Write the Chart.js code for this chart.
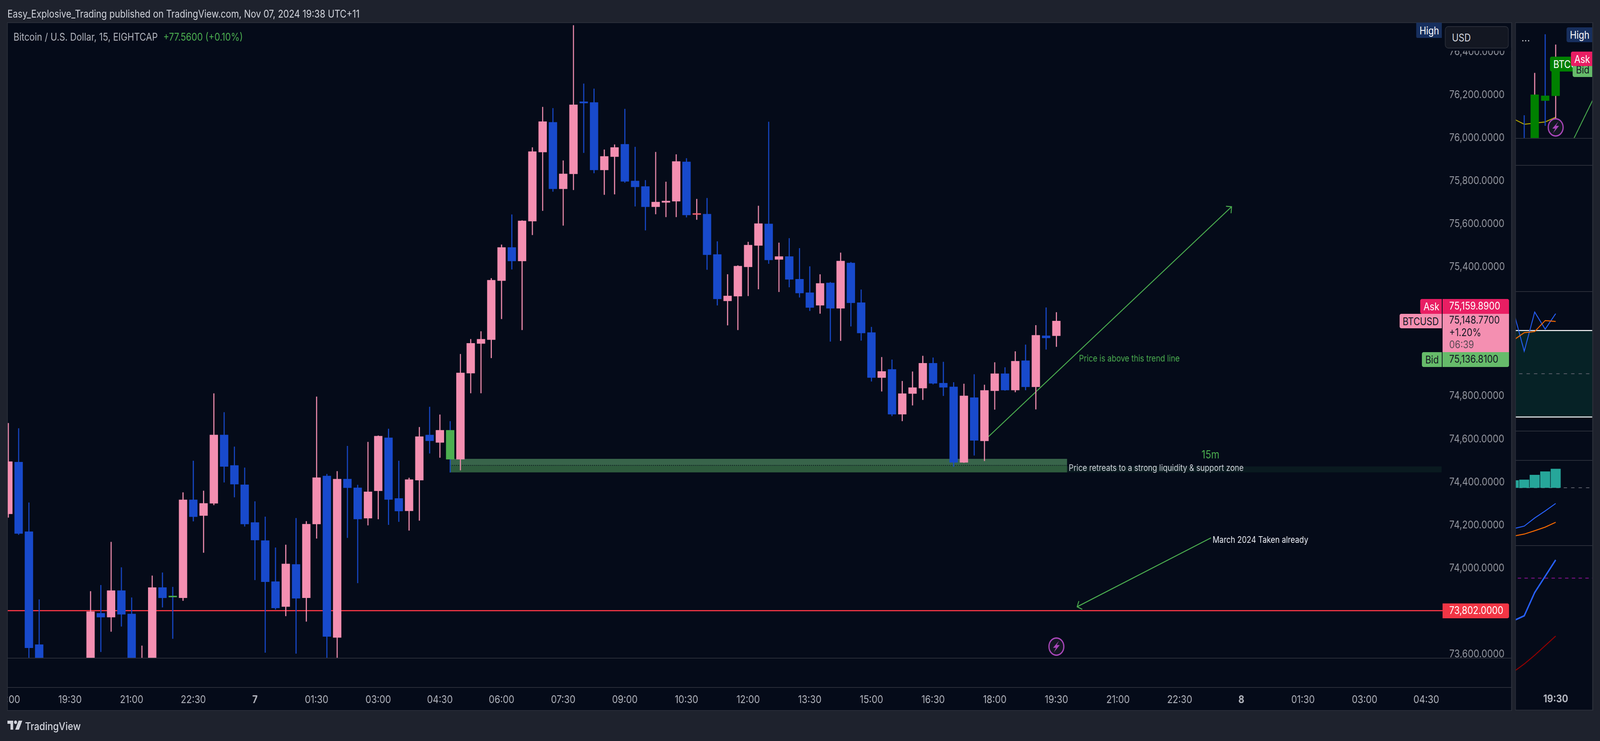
<!DOCTYPE html>
<html>
<head>
<meta charset="utf-8">
<script src="https://cdn.jsdelivr.net/npm/chart.js@4/dist/chart.umd.min.js"></script>
<style>
  html,body{margin:0;padding:0;background:#1e222d;overflow:hidden;}
  #page{position:relative;width:4734px;height:1896px;overflow:hidden;font-family:Inter,sans-serif;background:#1e222d;transform-origin:0 0;}
  .pane{position:absolute;background:#050b19;}
  .rule{position:absolute;background:#2a2e39;}
  canvas{position:absolute;}
  .t{position:absolute;white-space:nowrap;line-height:1;}
  .tag{position:absolute;white-space:nowrap;display:flex;align-items:center;box-sizing:border-box;font-size:26.4px;}
</style>
</head>
<body>
<div id="page">
  <div class="pane" style="left:22px;top:58px;width:4450px;height:1760px"></div>
  <div class="pane" style="left:4484px;top:58px;width:228px;height:1759px"></div>

  <canvas id="mainChart" width="4734" height="1896" style="left:0;top:0"></canvas>
  <canvas id="insetCandles" width="228" height="296" style="left:4484px;top:58px"></canvas>
  <canvas id="insetRsi" width="228" height="357" style="left:4484px;top:746px"></canvas>
  <canvas id="insetMacd" width="228" height="218" style="left:4484px;top:1178px"></canvas>
  <canvas id="insetTrend" width="228" height="421" style="left:4484px;top:1396px"></canvas>

  <div class="rule" style="left:22px;top:1683px;width:4450px;height:2px"></div>
  <div class="rule" style="left:22px;top:1758px;width:4450px;height:2px"></div>
  <div class="rule" style="left:22px;top:57px;width:4450px;height:2px"></div>
  <div class="rule" style="left:21px;top:57px;width:2px;height:1762px"></div>
  <div class="rule" style="left:4471px;top:57px;width:3px;height:1762px"></div>
  <div class="rule" style="left:22px;top:1817px;width:4450px;height:2px"></div>
  <div class="rule" style="left:4483px;top:57px;width:2px;height:1761px"></div>
  <div class="rule" style="left:4711px;top:57px;width:3px;height:1761px"></div>
  <div class="rule" style="left:4483px;top:57px;width:230px;height:2px"></div>
  <div class="rule" style="left:4483px;top:1816px;width:230px;height:2px"></div>
  <div class="rule" style="left:4484px;top:353px;width:228px;height:2px"></div>
  <div class="rule" style="left:4484px;top:422px;width:228px;height:2px"></div>
  <div class="rule" style="left:4484px;top:745px;width:228px;height:2px"></div>
  <div class="rule" style="left:4484px;top:1102px;width:228px;height:2px"></div>
  <div class="rule" style="left:4484px;top:1177px;width:228px;height:2px"></div>
  <div class="rule" style="left:4484px;top:1395px;width:228px;height:2px"></div>

  <div class="t" style="left:22px;top:22px;font-size:26.4px;color:#d1d4dc">Easy_Explosive_Trading published on TradingView.com, Nov 07, 2024 19:38 UTC+11</div>
  <div class="t" style="left:40px;top:81px;font-size:26.4px;color:#b2b5be">Bitcoin / U.S. Dollar, 15, EIGHTCAP</div>
  <div class="t" style="left:483px;top:81px;font-size:26.4px;color:#4caf50">+77.5600 (+0.10%)</div>

  <svg style="position:absolute;left:22px;top:1843px" width="44" height="26" viewBox="0 0 44 26">
    <path d="M0 1H17V24H9V9H0Z M33 1H44L34 24H23Z" fill="#d1d4dc"/><circle cx="24" cy="5" r="4.5" fill="#d1d4dc"/>
  </svg>
  <div class="t" style="left:74px;top:1845px;font-size:27.5px;color:#d1d4dc;font-weight:500">TradingView</div>

  <div class="pane" style="left:4268px;top:122px;width:203px;height:8px"></div>
  <div class="tag" style="left:4190px;top:58px;width:76px;height:39px;background:#172f5e;color:#fff;border-radius:0 0 0 4px;padding-left:10px">High</div>
  <div class="tag" style="left:4275px;top:67px;width:189px;height:57px;background:#131722;border:2px solid #2a2e39;border-radius:10px;color:#d1d4dc;padding-left:19px">USD</div>

  <div class="tag" style="left:4202px;top:765px;width:64px;height:38px;background:#e91e63;color:#fff;border-radius:5px 0 0 5px;padding-left:10px">Ask</div>
  <div class="tag" style="left:4268px;top:765px;width:197px;height:38px;background:#e91e63;color:#fff;border-radius:0 5px 0 0;padding-left:20px;padding-bottom:4px">75,159.8900</div>
  <div class="tag" style="left:4141px;top:803px;width:125px;height:37px;background:#f48fb1;color:#131722;border-radius:5px 0 0 5px;padding-left:9px">BTCUSD</div>
  <div style="position:absolute;left:4268px;top:803px;width:197px;height:98px;background:#f48fb1"></div>
  <div class="t" style="left:4288px;top:805px;font-size:26.4px;color:#131722">75,148.7700</div>
  <div class="t" style="left:4288px;top:837px;font-size:26.4px;color:#131722">+1.20%</div>
  <div class="t" style="left:4288px;top:868px;font-size:26.4px;color:#5b4a55">06:39</div>
  <div class="tag" style="left:4207px;top:901px;width:59px;height:38px;background:#66bb6a;color:#131722;border-radius:5px 0 0 5px;padding-left:10px">Bid</div>
  <div class="tag" style="left:4268px;top:901px;width:197px;height:38px;background:#66bb6a;color:#131722;border-radius:0 0 5px 0;padding-left:20px;padding-bottom:4px">75,136.8100</div>
  <div class="tag" style="left:4268px;top:1544px;width:197px;height:38px;background:#f23645;color:#fff;border-radius:0 5px 5px 0;padding-left:20px;padding-bottom:4px">73,802.0000</div>

  <div class="tag" style="left:4635px;top:70px;width:76px;height:38px;background:#172f5e;color:#fff;border-radius:5px 0 0 5px;padding-left:10px">High</div>
  <div class="tag" style="left:4586px;top:145px;width:90px;height:38px;background:#008000;color:#fff;border-radius:5px 0 0 5px;padding-left:10px;overflow:hidden">BTCUSD</div>
  <div class="tag" style="left:4653px;top:159px;width:58px;height:38px;background:#66bb6a;color:#131722;border-radius:0 0 0 5px;padding-left:10px">Bid</div>
  <div class="tag" style="left:4648px;top:132px;width:63px;height:37px;background:#e91e63;color:#fff;border-radius:5px 0 0 5px;padding-left:10px">Ask</div>
  <div class="t" style="left:4502px;top:84px;font-size:26px;color:#d1d4dc;letter-spacing:1px">...</div>
  <div class="t" style="left:4566px;top:1774px;font-size:27px;font-weight:700;color:#b2b5be">19:30</div>
</div>

<script>
// the browser window can come out narrower than the layout, so fit the page into it
document.getElementById('page').style.transform = 'scale(' + (window.innerWidth / 4734) + ',' + (window.innerHeight / 1896) + ')';

// candles, 15 minute bars starting 18:00 on the 6th. 4-7 and part of 12,13 sit below the visible range
var opens = [74251.8,74493,74169.5,73644.4,73500,73430,73470,73520,73500,73790.2,73771.6,73895.4,73786.9,73450,73500,73909.7,73869,73861.5,74317.5,74244,
  74301,74619,74477.6,74387.7,74212.3,74127.9,73937.1,73820.9,74017.1,73861.5,74204.6,74428.3,73677.3,74414,74373.5,74232,74359.2,74605.9,74324.1,74266,
  74408.6,74619,74584,74641,74506.1,74906.2,75044.1,75062.2,75336.4,75490.9,75427.6,75613.2,75934.5,76072.9,75763.4,75833,76168.9,76165.4,75851.1,75913,
  75970.7,75800.3,75774.6,75680,75700.2,75705.7,75889.3,75643.8,75645.9,75458.5,75242.3,75264.1,75400.5,75499.9,75600.8,75435,75448.9,75343.5,75280.9,75221.8,
  75326.1,75207.8,75418.8,75234.5,75095.4,74885.6,74923.9,74715.3,74811.4,74836.9,74952.8,74860.1,74842.7,74491.6,74792.9,74591.2,74824.2,74904.2,74827.7,74964.4,
  74842.7,75080.4,75080.4];
var highs = [74673.9,74649.8,74304.4,73853.8,73560,73540,73550,73570,73892,73920.6,74121.3,74002.9,73862.6,73638.9,73964.5,73978.8,73911.9,74351.5,74498.5,74359.2,
  74812,74724.3,74564.2,74466.7,74309.9,74238.6,74095,74108.1,74232,74217.8,74796.7,74437,74450.2,74567.5,74386.6,74586.2,74616,74647.6,74498.5,74419.5,
  74655.3,74749.5,74713.4,74682.7,74995.1,75064.4,75100.6,75347.7,75503.7,75643.8,75616.7,75956,76143.9,76138.3,75894.9,76523.6,76252.4,76228.7,75945.7,75969.3,
  76134.8,75958.2,75803.8,75934.5,75796.1,75923.4,75905.3,75716.1,75720.3,75518.8,75365.8,75407.3,75516.5,75684.2,76074.9,75512.7,75533.6,75487.2,75402.6,75365.5,
  75329.6,75466.3,75422.3,75294.8,75120.9,74980.7,74969.1,74869.4,74913.5,74986.5,74978.4,74958.6,74863.6,74856.7,74900.7,74852,74956.3,74933.1,75007.3,75038.6,
  75129,75211.3,75189.3];
var lows = [74235.3,74155.3,73560,73480,73400,73380,73420,73450,73470,73610.4,73704.7,73728.8,73480,73430,73480,73817.6,73671.8,73848.3,74217.8,74072,
  74293.4,74398.7,74329.6,74193.6,73944.8,73607.1,73807.7,73777,73602.7,73751.8,74137.7,73560,73570,74141,73930.5,74199.1,74227.7,74201.3,74215.6,74175,
  74221.1,74533.5,74513.8,74445,74454.9,74813.5,74813.5,74977,75158.6,75389.2,75107.4,75549.2,75661.9,75750.9,75593,75758.6,75931.1,75836.5,75736.3,75738.4,
  75792.6,75682.1,75570.8,75645.9,75632.7,75632.7,75631.3,75620.2,75387.7,75221.9,75129.2,75107.4,75265.6,75297.1,75415.3,75284.4,75306.4,75258.9,75196.3,75183.5,
  75053.7,75057.2,75124.4,75058.3,74868.2,74821.8,74707.1,74683.9,74756.9,74782.5,74855,74801,74471.8,74490,74524,74498.5,74737.3,74825.4,74818.4,74827.7,
  74738.4,75016.6,75029.4];
var closes = [74495.2,74160.8,73629,73500,73430,73470,73520,73490,73797.9,73771.6,73895.4,73784.7,73500,73570,73909.7,73861.5,73865,74317.5,74238.6,74301,
  74619,74472.2,74389.9,74204.6,74130,73936,73814.3,74019.3,73859.3,74204.6,74420.6,73681.7,74414,74373.5,74227.7,74354.8,74613.6,74318.6,74264.9,74411.8,
  74611.4,74591.7,74641,74506.1,74907.7,75045.6,75064.4,75338.7,75490.9,75427.6,75614.6,75936.6,76076.4,75763.4,75833,76154.3,76162,75851.1,75914.4,75956,
  75798.2,75772.5,75680,75702.2,75707.1,75890.7,75641.7,75647.3,75457,75251.3,75265.6,75404.3,75502.2,75602,75432.7,75448.9,75342.3,75278.6,75211.3,75323.8,
  75207.8,75428.1,75233.4,75093.1,74885.6,74914.6,74715.3,74811.4,74839.3,74952.8,74859,74840.4,74491.6,74801,74593.5,74826.5,74904.2,74827.7,74962.1,74842.7,
  75082.7,75070,75148.8];

var greenBars = [16, 43];   // bars painted green in the original
var redBars = [67];

var timeLabels = ['18:00','19:30','21:00','22:30','7','01:30','03:00','04:30','06:00','07:30','09:00','10:30','12:00','13:30','15:00','16:30','18:00','19:30','21:00','22:30','8','01:30','03:00','04:30'];
var priceTickStep = 200;

// drawings on the main pane, x is bar number, y is price
var levelLine = 73802;
var zoneTop = 74508, zoneMid = 74477.5, zoneBottom = 74445, zoneStart = 43, zoneEnd = 103.04;
var zoneTailTop = 74472.8, zoneTailEnd = 139.5;
var trendX = [95.4, 119.05], trendY = [74611.6, 75680.2];
var trendHeadX = [118.51, 119.05, 119.0], trendHeadY = [75682.6, 75680.2, 75649.9];
var marchX = [117.05, 104.02], marchY = [74140.9, 73820.2];
var marchHeadX = [104.19, 104.02, 104.52], marchHeadY = [73846.5, 73820.2, 73808];

// side panes, bars 98-102
var insetBars = [98, 99, 100, 101, 102];
var insetMa = [75030.9, 75019.6, 75022.1, 75024.6, 75034.6];
var insetTrendX = [103.75, 105.52], insetTrendY = [74990, 75070.5];
var rsi = [78.5, 60.4, 78.5, 70.6, 77.8];
var rsiMa = [65.6, 69, 69.5, 74.6, 74.2];
var macd = [-104.7, -98.2, -77.4, -59.4, -40.2];
var macdSignal = [-123.5, -118.6, -110, -100.7, -88.4];
var macdHist = [18.8, 20.4, 32.6, 41.3, 48.2];
var adx = [66.75, 70.5, 88.75, 101.5, 114.25];
var adxSlow = [26.75, 32.75, 39.6, 47.1, 54.6];

var PINK = '#f48fb1', BLUE = '#184acc', GREEN = '#4caf50', LINE_GREEN = '#4caf50', RED = '#f23645';
var FONT = 'Inter, sans-serif';

function pairs(xs, ys){ return xs.map(function(x, i){ return {x: x, y: ys[i]}; }); }
function wickColor(i){ return closes[i] >= opens[i] ? PINK : BLUE; }
function bodyColor(i){
  if(greenBars.indexOf(i) >= 0) return GREEN;
  if(redBars.indexOf(i) >= 0) return '#ef5f70';
  return wickColor(i);
}
function candleData(){
  return opens.map(function(o, i){ return {x: i, y: [o, closes[i]]}; });
}
function wickData(){
  return opens.map(function(o, i){ return {x: i, y: [lows[i], highs[i]]}; });
}
function thinLine(data, color, width, order){
  return {type: 'line', data: data, borderColor: color, borderWidth: width, pointRadius: 0, tension: 0, order: order, fill: false};
}

// bolt inside a ring, used on both candle panes
function drawBolt(ctx, x, y){
  ctx.save();
  ctx.beginPath(); ctx.arc(x, y, 22, 0, Math.PI * 2);
  ctx.fillStyle = '#131722'; ctx.fill();
  ctx.lineWidth = 3.5; ctx.strokeStyle = '#ab47bc'; ctx.stroke();
  ctx.beginPath();
  ctx.moveTo(x + 8, y - 15); ctx.lineTo(x - 10, y + 3); ctx.lineTo(x - 1, y + 3);
  ctx.lineTo(x - 8, y + 15); ctx.lineTo(x + 10, y - 4); ctx.lineTo(x + 1, y - 4);
  ctx.closePath(); ctx.fillStyle = '#ab47bc'; ctx.fill();
  ctx.restore();
}

var zonePlugin = {
  id: 'zone',
  beforeDatasetsDraw: function(chart){
    var c = chart.ctx, xs = chart.scales.x, ys = chart.scales.y;
    var left = xs.getPixelForValue(zoneStart), right = xs.getPixelForValue(zoneEnd);
    var top = ys.getPixelForValue(zoneTop), mid = ys.getPixelForValue(zoneMid), bottom = ys.getPixelForValue(zoneBottom);
    c.save();
    c.fillStyle = '#0a1a20';
    c.fillRect(right, ys.getPixelForValue(zoneTailTop), xs.getPixelForValue(zoneTailEnd) - right, bottom - ys.getPixelForValue(zoneTailTop));
    c.fillStyle = '#38644a'; c.fillRect(left, top, right - left, mid - top);
    c.fillStyle = '#2e5b3d'; c.fillRect(left, mid, right - left, bottom - mid);
    c.strokeStyle = '#050b19'; c.lineWidth = 2; c.setLineDash([2, 4]);
    c.beginPath(); c.moveTo(left, mid); c.lineTo(right, mid); c.stroke();
    c.restore();
  }
};

var notes = [
  {text: 'Price is above this trend line', x: 104.2, y: 74973.3, size: 22.4, color: LINE_GREEN, align: 'left'},
  {text: '15m', x: 117, y: 74524.4, size: 28, color: LINE_GREEN, align: 'center'},
  {text: 'Price retreats to a strong liquidity & support zone', x: 103.2, y: 74464.4, size: 22.4, color: '#d1d4dc', align: 'left'},
  {text: 'March 2024 Taken already', x: 117.2, y: 74130, size: 22.4, color: '#f0f3fa', align: 'left'}
];

var notesPlugin = {
  id: 'notes',
  afterDraw: function(chart){
    var c = chart.ctx, xs = chart.scales.x, ys = chart.scales.y;
    c.save();
    // left edge and the band under the price labels get covered like the original panes do
    c.fillStyle = '#1e222d'; c.fillRect(0, 1760, 22, 58);
    c.fillStyle = '#050b19'; c.fillRect(4268, 1684, 204, 74);
    notes.forEach(function(n){
      c.font = n.size + 'px ' + FONT;
      c.fillStyle = n.color; c.textAlign = n.align; c.textBaseline = 'middle';
      c.fillText(n.text, xs.getPixelForValue(n.x), ys.getPixelForValue(n.y));
    });
    c.restore();
    drawBolt(c, xs.getPixelForValue(102), ys.getPixelForValue(73635));
  }
};

new Chart(document.getElementById('mainChart').getContext('2d'), {
  type: 'bar',
  plugins: [zonePlugin, notesPlugin],
  data: {
    datasets: [
      thinLine([{x: -1, y: levelLine}, {x: 140, y: levelLine}], RED, 3, 6),
      thinLine(pairs(trendX, trendY), LINE_GREEN, 2.5, 5),
      thinLine(pairs(trendHeadX, trendHeadY), LINE_GREEN, 2.5, 5),
      thinLine(pairs(marchX, marchY), LINE_GREEN, 2.5, 5),
      thinLine(pairs(marchHeadX, marchHeadY), LINE_GREEN, 2.5, 5),
      {data: wickData(), barThickness: 2.5, grouped: false, order: 3, borderSkipped: false,
        backgroundColor: opens.map(function(o, i){ return wickColor(i); })},
      {data: candleData(), barThickness: 24, grouped: false, order: 2, minBarLength: 3, borderSkipped: false,
        backgroundColor: opens.map(function(o, i){ return bodyColor(i); })}
    ]
  },
  options: {
    responsive: false,
    animation: false,
    devicePixelRatio: 1,
    layout: {padding: {left: 22, top: 58, right: 262, bottom: 78}},
    plugins: {legend: {display: false}, tooltip: {enabled: false}},
    scales: {
      x: {
        type: 'linear', offset: false, min: -0.089, max: 139.58,
        grid: {display: false}, border: {display: false},
        afterBuildTicks: function(s){
          s.ticks = timeLabels.map(function(l, k){ return {value: k * 6}; });
        },
        afterFit: function(s){ s.height = 134; s.paddingLeft = 0; s.paddingRight = 0; },
        ticks: {
          autoSkip: false, maxRotation: 0, padding: 83, color: '#b2b5be',
          font: function(ctx){
            var l = ctx.tick ? timeLabels[ctx.tick.value / 6] : '';
            return {family: FONT, size: 27, weight: (l === '7' || l === '8') ? '700' : '400'};
          },
          callback: function(v){ return timeLabels[v / 6]; }
        }
      },
      y: {
        position: 'right', min: 73581.2, max: 76536.2,
        grid: {display: false, drawTicks: false}, border: {display: false},
        afterFit: function(s){ s.width = 204; s.paddingTop = 0; s.paddingBottom = 0; },
        ticks: {
          stepSize: priceTickStep, includeBounds: false, padding: 20, color: '#9598a1',
          font: {family: FONT, size: 27},
          callback: function(v){
            return v.toLocaleString('en-US', {minimumFractionDigits: 4, maximumFractionDigits: 4});
          }
        }
      }
    }
  }
});

// side panes share the same bar spacing, so one x range for all of them
var INSET_X = {type: 'linear', display: false, offset: false, min: 98.17, max: 105.52};

function insetChart(id, datasets, yMin, yMax, plugin){
  new Chart(document.getElementById(id).getContext('2d'), {
    type: 'bar',
    plugins: plugin ? [plugin] : [],
    data: {datasets: datasets},
    options: {
      responsive: false, animation: false, devicePixelRatio: 1,
      plugins: {legend: {display: false}, tooltip: {enabled: false}},
      scales: {x: INSET_X, y: {display: false, min: yMin, max: yMax}}
    }
  });
}
function hLine(value, color, width, dash, order){
  var d = thinLine([{x: 90, y: value}, {x: 110, y: value}], color, width, order);
  d.borderDash = dash || [];
  return d;
}

var boltLast = {
  id: 'boltLast',
  afterDraw: function(chart){
    drawBolt(chart.ctx, chart.scales.x.getPixelForValue(102), chart.scales.y.getPixelForValue(75013));
  }
};
insetChart('insetCandles', [
  thinLine(pairs(insetBars, insetMa), '#b5a800', 2.5, 4),
  thinLine(pairs(insetTrendX, insetTrendY), LINE_GREEN, 2.5, 4),
  {data: insetBars.map(function(i){ return {x: i, y: [lows[i], highs[i]]}; }), barThickness: 2.5, grouped: false, order: 3,
    borderSkipped: false, backgroundColor: insetBars.map(wickColor)},
  {data: insetBars.map(function(i){ return {x: i, y: [opens[i], closes[i]]}; }), barThickness: 24, grouped: false, order: 2,
    borderSkipped: false, backgroundColor: '#008000'}
], 74989.6, 75236.3, boltLast);

// RSI band
var rsiBand = {
  id: 'rsiBand',
  beforeDatasetsDraw: function(chart){
    var c = chart.ctx, ys = chart.scales.y, a = chart.chartArea;
    c.save(); c.fillStyle = '#062226';
    c.fillRect(a.left, ys.getPixelForValue(70), a.right - a.left, ys.getPixelForValue(30) - ys.getPixelForValue(70));
    c.restore();
  }
};
insetChart('insetRsi', [
  hLine(70, '#ffffff', 2.5, null, 5),
  hLine(30, '#ffffff', 2.5, null, 5),
  hLine(50, '#5d606b', 2, [10, 12], 5),
  thinLine(pairs(insetBars, rsi), '#2962ff', 2.5, 3),
  thinLine(pairs(insetBars, rsiMa), '#ff6d00', 2.5, 2)
], 23.5, 88, rsiBand);

insetChart('insetMacd', [
  hLine(0, '#5d606b', 2, [10, 12], 5),
  {data: pairs(insetBars, macdHist), barThickness: 29, grouped: false, order: 4, backgroundColor: '#26a69a'},
  thinLine(pairs(insetBars, macd), '#2962ff', 2.5, 3),
  thinLine(pairs(insetBars, macdSignal), '#ff6d00', 2.5, 2)
], -148, 70);

insetChart('insetTrend', [
  hLine(100, '#8e1599', 2, [10, 10], 5),
  thinLine(pairs(insetBars, adx), '#2962ff', 4, 3),
  thinLine(pairs(insetBars, adxSlow), '#990000', 2.5, 2)
], -3.4, 125.5);
</script>
</body>
</html>
